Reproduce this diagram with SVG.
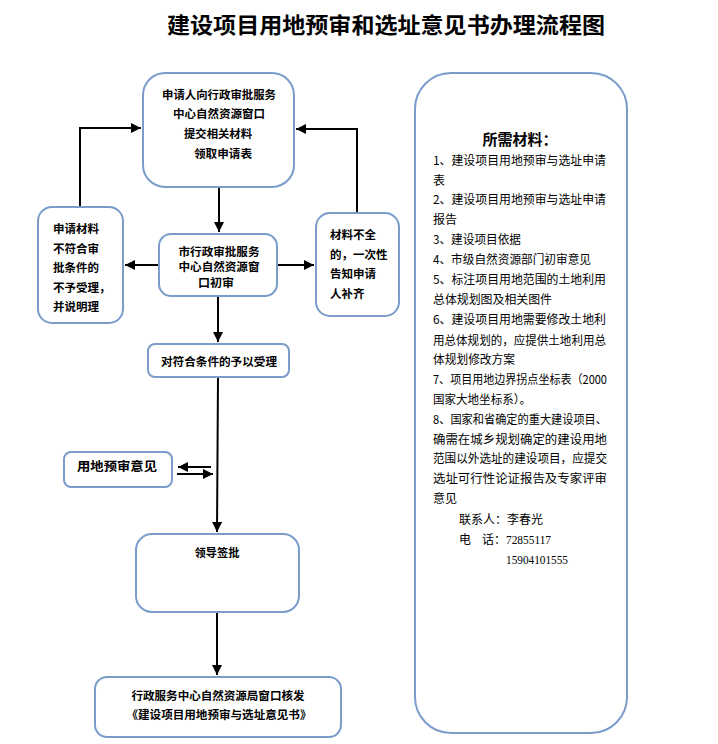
<svg xmlns="http://www.w3.org/2000/svg" width="718" height="744" viewBox="0 0 718 744">
<style>
.box{fill:#fff;stroke:#7a9ccb;stroke-width:2}
.t{font-family:"Noto Sans CJK SC","Noto Sans",sans-serif;font-size:11.5px;font-weight:bold;fill:#000}
.r{font-family:"Noto Sans CJK SC","Noto Sans",sans-serif;font-size:12px;fill:#000}
.n{font-family:"Liberation Serif",serif;font-size:12.5px;fill:#000}
.ln{fill:none;stroke:#000;stroke-width:2}
</style>
<defs>
<marker id="ah" viewBox="0 0 10 10" refX="10" refY="5" markerWidth="5" markerHeight="5" orient="auto" markerUnits="strokeWidth">
<path d="M0,0 L10,5 L0,10 z" fill="#000"/>
</marker>
</defs>
<rect width="718" height="744" fill="#fff"/>
<text x="386" y="33" text-anchor="middle" font-family="Noto Sans CJK SC,sans-serif" font-size="22px" font-weight="bold" textLength="438" lengthAdjust="spacingAndGlyphs">建设项目用地预审和选址意见书办理流程图</text>

<g id="connectors">
<line class="ln" x1="219" y1="187" x2="219" y2="232" marker-end="url(#ah)"/>
<line class="ln" x1="159" y1="265" x2="125" y2="265" marker-end="url(#ah)"/>
<line class="ln" x1="277" y1="265" x2="314" y2="265" marker-end="url(#ah)"/>
<polyline class="ln" points="80,207 80,128 141,128" marker-end="url(#ah)"/>
<polyline class="ln" points="357,213 357,129 296,129" marker-end="url(#ah)"/>
<line class="ln" x1="218" y1="296" x2="218" y2="342" marker-end="url(#ah)"/>
<line class="ln" x1="218" y1="377" x2="217" y2="532" marker-end="url(#ah)"/>
<line class="ln" x1="211" y1="467" x2="178" y2="467" marker-end="url(#ah)"/>
<line class="ln" x1="177" y1="474" x2="213" y2="474" marker-end="url(#ah)"/>
<line class="ln" x1="217" y1="612" x2="217" y2="675" marker-end="url(#ah)"/>
</g>

<g id="n-apply">
<rect class="box" x="143" y="73" width="151" height="114" rx="22"/>
<text class="t" x="219" y="99" text-anchor="middle" textLength="114" lengthAdjust="spacingAndGlyphs">申请人向行政审批服务</text>
<text class="t" x="219" y="118" text-anchor="middle" textLength="92" lengthAdjust="spacingAndGlyphs">中心自然资源窗口</text>
<text class="t" x="218" y="138" text-anchor="middle" textLength="68" lengthAdjust="spacingAndGlyphs">提交相关材料</text>
<text class="t" x="223" y="158" text-anchor="middle" textLength="58" lengthAdjust="spacingAndGlyphs">领取申请表</text>
</g>

<g id="n-reject">
<rect class="box" x="38" y="207" width="85" height="116" rx="14"/>
<text class="t" x="53" y="233">申请材料</text>
<text class="t" x="53" y="253">不符合审</text>
<text class="t" x="53" y="272">批条件的</text>
<text class="t" x="53" y="292">不予受理，</text>
<text class="t" x="53" y="311">并说明理</text>
</g>

<g id="n-review">
<rect class="box" x="159" y="234" width="118" height="62" rx="12"/>
<text class="t" x="219" y="256" text-anchor="middle" textLength="81" lengthAdjust="spacingAndGlyphs">市行政审批服务</text>
<text class="t" x="219" y="271" text-anchor="middle" textLength="81" lengthAdjust="spacingAndGlyphs">中心自然资源窗</text>
<text class="t" x="216" y="287" text-anchor="middle" textLength="36" lengthAdjust="spacingAndGlyphs">口初审</text>
</g>

<g id="n-incomplete">
<rect class="box" x="316" y="213" width="83" height="103" rx="14"/>
<text class="t" x="330" y="239">材料不全</text>
<text class="t" x="330" y="259">的，一次性</text>
<text class="t" x="330" y="278">告知申请</text>
<text class="t" x="330" y="298">人补齐</text>
</g>

<g id="n-accept">
<rect class="box" x="148" y="344" width="141" height="33" rx="7"/>
<text class="t" x="219" y="366" text-anchor="middle" textLength="116" lengthAdjust="spacingAndGlyphs">对符合条件的予以受理</text>
</g>

<g id="n-opinion">
<rect class="box" x="64" y="452" width="108" height="35" rx="7"/>
<text class="t" x="117" y="471" text-anchor="middle" style="font-size:12.5px" textLength="80" lengthAdjust="spacingAndGlyphs">用地预审意见</text>
</g>

<g id="n-sign">
<rect class="box" x="136" y="534" width="163" height="78" rx="16"/>
<text class="t" x="217" y="557" text-anchor="middle" textLength="45" lengthAdjust="spacingAndGlyphs">领导签批</text>
</g>

<g id="n-issue">
<rect class="box" x="95" y="677" width="246" height="60" rx="12"/>
<text class="t" x="218" y="700" text-anchor="middle" textLength="173" lengthAdjust="spacingAndGlyphs">行政服务中心自然资源局窗口核发</text>
<text class="t" x="219" y="719" text-anchor="middle" textLength="185" lengthAdjust="spacingAndGlyphs">《建设项目用地预审与选址意见书》</text>
</g>

<g id="n-materials">
<rect class="box" x="415" y="73" width="212" height="660" rx="36"/>
<text x="520" y="145" text-anchor="middle" font-family="Noto Sans CJK SC,sans-serif" font-size="15px" font-weight="bold">所需材料：</text>
<text class="r" x="433" y="165" textLength="173" lengthAdjust="spacingAndGlyphs">1、建设项目用地预审与选址申请</text>
<text class="r" x="433" y="185">表</text>
<text class="r" x="433" y="204" textLength="173" lengthAdjust="spacingAndGlyphs">2、建设项目用地预审与选址申请</text>
<text class="r" x="433" y="224">报告</text>
<text class="r" x="433" y="244" textLength="88" lengthAdjust="spacingAndGlyphs">3、建设项目依据</text>
<text class="r" x="433" y="264" textLength="158" lengthAdjust="spacingAndGlyphs">4、市级自然资源部门初审意见</text>
<text class="r" x="433" y="284" textLength="173" lengthAdjust="spacingAndGlyphs">5、标注项目用地范围的土地利用</text>
<text class="r" x="433" y="304" textLength="119" lengthAdjust="spacingAndGlyphs">总体规划图及相关图件</text>
<text class="r" x="433" y="324" textLength="173" lengthAdjust="spacingAndGlyphs">6、建设项目用地需要修改土地利</text>
<text class="r" x="433" y="345" textLength="173" lengthAdjust="spacingAndGlyphs">用总体规划的，应提供土地利用总</text>
<text class="r" x="433" y="364" textLength="82" lengthAdjust="spacingAndGlyphs">体规划修改方案</text>
<text class="r" x="433" y="384" textLength="174" lengthAdjust="spacingAndGlyphs">7、项目用地边界拐点坐标表（2000</text>
<text class="r" x="433" y="404" textLength="98" lengthAdjust="spacingAndGlyphs">国家大地坐标系）。</text>
<text class="r" x="433" y="424" textLength="174" lengthAdjust="spacingAndGlyphs">8、国家和省确定的重大建设项目、</text>
<text class="r" x="433" y="444" textLength="174" lengthAdjust="spacingAndGlyphs">确需在城乡规划确定的建设用地</text>
<text class="r" x="433" y="463" textLength="174" lengthAdjust="spacingAndGlyphs">范围以外选址的建设项目，应提交</text>
<text class="r" x="433" y="483" textLength="174" lengthAdjust="spacingAndGlyphs">选址可行性论证报告及专家评审</text>
<text class="r" x="433" y="503">意见</text>
<text class="r" x="459" y="524">联系人：李春光</text>
<text class="r" x="459" y="544">电</text>
<text class="r" x="482" y="544">话：</text>
<text class="n" x="506" y="544" textLength="45" lengthAdjust="spacingAndGlyphs">72855117</text>
<text class="n" x="506" y="564" textLength="62" lengthAdjust="spacingAndGlyphs">15904101555</text>
</g>
</svg>
